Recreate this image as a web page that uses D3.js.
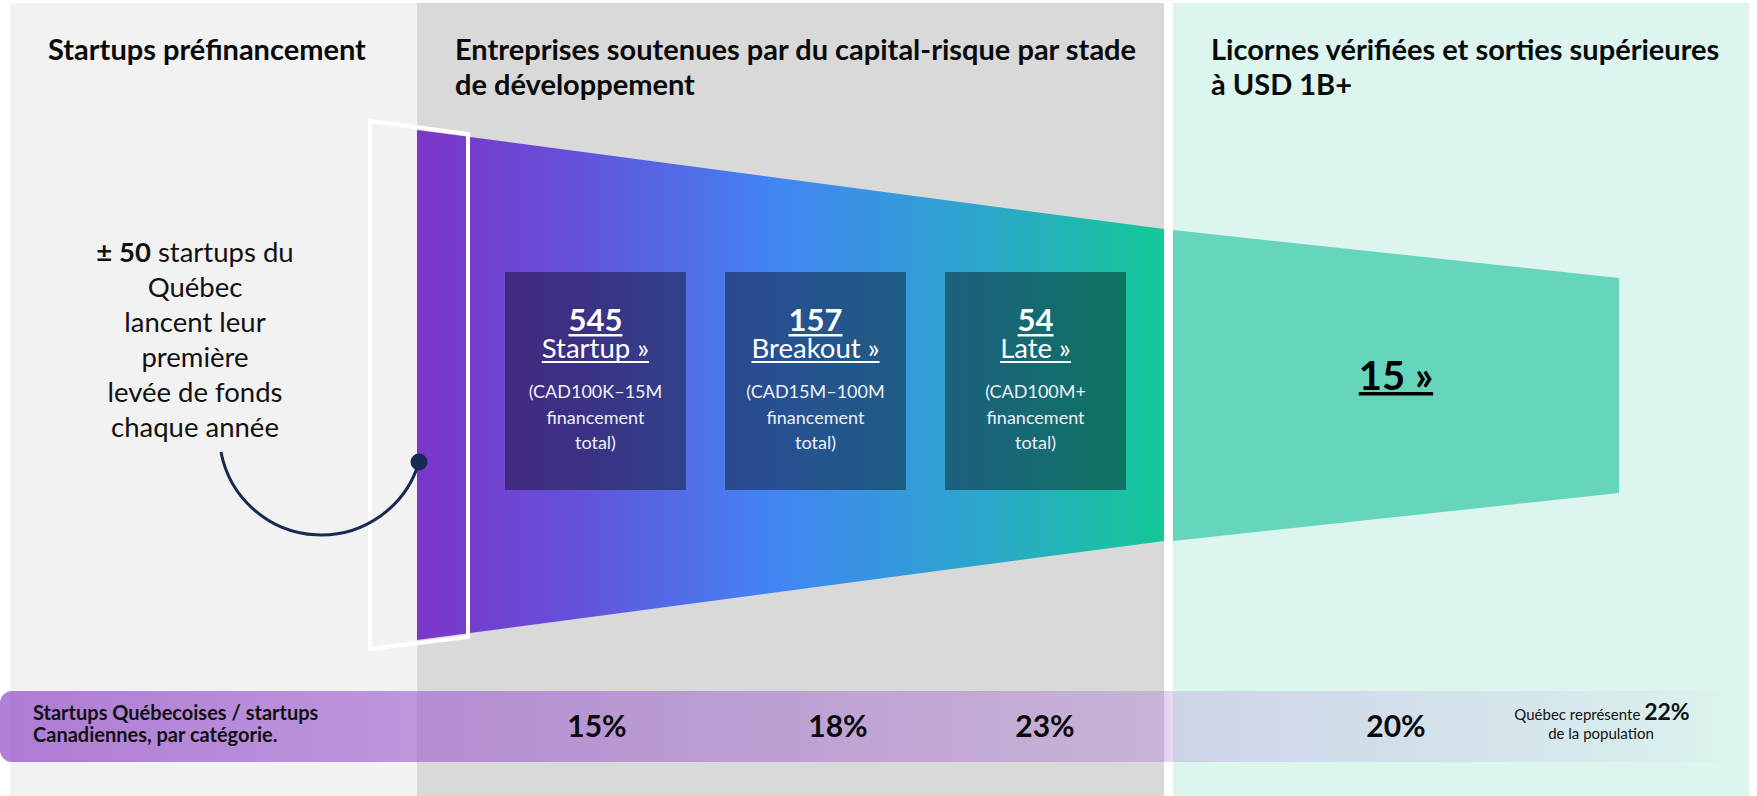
<!DOCTYPE html>
<html><head><meta charset="utf-8">
<script src="https://cdn.jsdelivr.net/npm/d3@7"></script>
<style>
html,body{margin:0;padding:0;background:#fff;}
svg{display:block;font-family:Lato,"Noto Sans",sans-serif;}
</style></head><body>
<svg id="c" width="1757" height="796"></svg>
<script>
// ---------- data ----------
const panelTitles = [
  ["Startups préfinancement"],
  ["Entreprises soutenues par du capital-risque par stade", "de développement"],
  ["Licornes vérifiées et sorties supérieures", "à USD 1B+"]
];
const stages = ["Startup »", "Breakout »", "Late »"];
const stageCounts = [545, 157, 54];
const stageRanges = [
  ["(CAD100K–15M", "financement", "total)"],
  ["(CAD15M–100M", "financement", "total)"],
  ["(CAD100M+", "financement", "total)"]
];
const unicornCount = 15;
const prefundingCount = 50;
const prefundingText = ["startups du", "Québec", "lancent leur", "première", "levée de fonds", "chaque année"];
const shareCategories = ["Startup", "Breakout", "Late", "Licornes"];
const shareValues = [15, 18, 23, 20];
const populationShare = 22;
const bandLabel = ["Startups Québecoises / startups", "Canadiennes, par catégorie."];

// ---------- layout ----------
const svg = d3.select("#c");
const W = 1757, H = 796;
const panels = [
  {x0: 10, x1: 417, fill: "#f2f2f2"},
  {x0: 417, x1: 1164, fill: "#d9d9d9"},
  {x0: 1173, x1: 1749, fill: "#dcf6ef"}
];
const panelTop = 3;
const defs = svg.append("defs");

// funnel gradient
const fg = defs.append("linearGradient").attr("id", "fg")
  .attr("gradientUnits", "userSpaceOnUse").attr("x1", 417).attr("x2", 1164).attr("y1", 0).attr("y2", 0);
[[0, "#7c35c8"], [0.22, "#6352dc"], [0.48, "#4285f4"], [0.76, "#2ba7cb"], [1, "#14c897"]]
  .forEach(([o, c]) => fg.append("stop").attr("offset", o).attr("stop-color", c));

// band gradient
const bg = defs.append("linearGradient").attr("id", "bg")
  .attr("gradientUnits", "userSpaceOnUse").attr("x1", 0).attr("x2", 1742).attr("y1", 0).attr("y2", 0);
[[0, 0.78], [0.24, 0.6], [0.668, 0.29], [0.675, 0.22], [0.85, 0.12], [0.96, 0.05], [1, 0]]
  .forEach(([o, a]) => bg.append("stop").attr("offset", o).attr("stop-color", "rgb(155,90,205)").attr("stop-opacity", a));

// panels
svg.selectAll("rect.panel").data(panels).join("rect").attr("class", "panel")
  .attr("x", d => d.x0).attr("y", panelTop).attr("width", d => d.x1 - d.x0).attr("height", H - panelTop)
  .attr("fill", d => d.fill);

// titles
const titleX = panels.map(p => p.x0 + 38);
panelTitles.forEach((lines, i) => {
  const t = svg.append("text").attr("x", titleX[i]).attr("y", 60)
    .attr("font-size", 29).attr("font-weight", 700).attr("fill", "#0a0a0a");
  lines.forEach((l, j) => t.append("tspan").attr("x", titleX[i]).attr("y", 60 + j * 35).text(l));
});

// funnel (VC stages)
const line = d3.line();
svg.append("path").attr("d", line([[417, 130], [1164, 229], [1164, 541], [417, 640]]) + "Z").attr("fill", "url(#fg)");
// unicorn trapezoid
svg.append("path").attr("d", line([[1173, 230], [1619, 278], [1619, 493], [1173, 541]]) + "Z").attr("fill", "#66d5bc");
// prefunding outline
svg.append("path").attr("d", line([[370, 121], [468, 134], [468, 637], [370, 649]]) + "Z")
  .attr("fill", "none").attr("stroke", "#fff").attr("stroke-width", 4);

// stage boxes
const xb = d3.scaleBand().domain(stages).range([505, 1126]).paddingInner(0.178);
const boxTop = 272, boxBot = 490;
const g = svg.selectAll("g.stage").data(stages).join("g").attr("class", "stage")
  .attr("transform", d => `translate(${xb(d)},0)`);
g.append("rect").attr("y", boxTop).attr("width", xb.bandwidth()).attr("height", boxBot - boxTop)
  .attr("fill", "#000").attr("fill-opacity", 0.4);
const cx = xb.bandwidth() / 2;

function underline(sel, y, th, color) {
  sel.each(function () {
    const bb = this.getBBox();
    d3.select(this.parentNode).append("rect").attr("x", bb.x).attr("y", y).attr("width", bb.width)
      .attr("height", th).attr("fill", color);
  });
}
const cnt = g.append("text").attr("x", cx).attr("y", 331).attr("text-anchor", "middle")
  .attr("font-size", 31).attr("font-weight", 700).attr("fill", "#fff").text((d, i) => stageCounts[i]);
underline(cnt, 334, 2.5, "#fff");
const lab = g.append("text").attr("x", cx).attr("y", 358).attr("text-anchor", "middle")
  .attr("font-size", 27.5).attr("fill", "#fff").text(d => d);
underline(lab, 361, 2, "#fff");
g.each(function (d, i) {
  const t = d3.select(this).append("text").attr("text-anchor", "middle").attr("font-size", 18).attr("fill", "#eef0f8");
  stageRanges[i].forEach((l, j) => t.append("tspan").attr("x", cx).attr("y", 398 + j * 25.5).text(l));
});

// unicorns
const uni = svg.append("g");
const ut = uni.append("text").attr("x", 1396).attr("y", 390).attr("text-anchor", "middle")
  .attr("font-size", 40).attr("font-weight", 700).attr("fill", "#000").text(unicornCount + " »");
underline(ut, 392, 3.5, "#000");

// prefunding annotation
const at = svg.append("text").attr("text-anchor", "middle").attr("font-size", 27.5).attr("fill", "#111");
prefundingText.forEach((l, j) => {
  const ts = at.append("tspan").attr("x", 195).attr("y", 262 + j * 35);
  if (j === 0) {
    ts.append("tspan").attr("font-weight", 700).text("± " + prefundingCount);
    ts.append("tspan").text(" " + l);
  } else ts.text(l);
});

// bottom band
svg.append("rect").attr("x", 0).attr("y", 691).attr("width", 1742).attr("height", 71).attr("rx", 12)
  .attr("fill", "url(#bg)");
const bl = svg.append("text").attr("font-size", 20).attr("font-weight", 700).attr("fill", "#111");
bandLabel.forEach((l, j) => bl.append("tspan").attr("x", 33).attr("y", 720 + j * 21.5).text(l));
const xs = d3.scaleOrdinal().domain(shareCategories).range([597, 838, 1045, 1396]);
svg.selectAll("text.share").data(shareValues).join("text").attr("class", "share")
  .attr("x", (d, i) => xs(shareCategories[i])).attr("y", 737).attr("text-anchor", "middle")
  .attr("font-size", 30).attr("font-weight", 700).attr("fill", "#0a0a0a").text(d => d + "%");
const pt = svg.append("text").attr("text-anchor", "middle").attr("fill", "#111");
const p1 = pt.append("tspan").attr("x", 1602).attr("y", 720);
p1.append("tspan").attr("font-size", 15).text("Québec représente ");
p1.append("tspan").attr("font-size", 23).attr("font-weight", 700).text(populationShare + "%");
pt.append("tspan").attr("x", 1601).attr("y", 739).attr("font-size", 15).text("de la population");

// connector
svg.append("path").attr("d", "M221,452 A102,102 0 0 0 419,462").attr("fill", "none")
  .attr("stroke", "#172a52").attr("stroke-width", 3);
svg.append("circle").attr("cx", 419).attr("cy", 462).attr("r", 8.5).attr("fill", "#172a52");
</script>
</body></html>
